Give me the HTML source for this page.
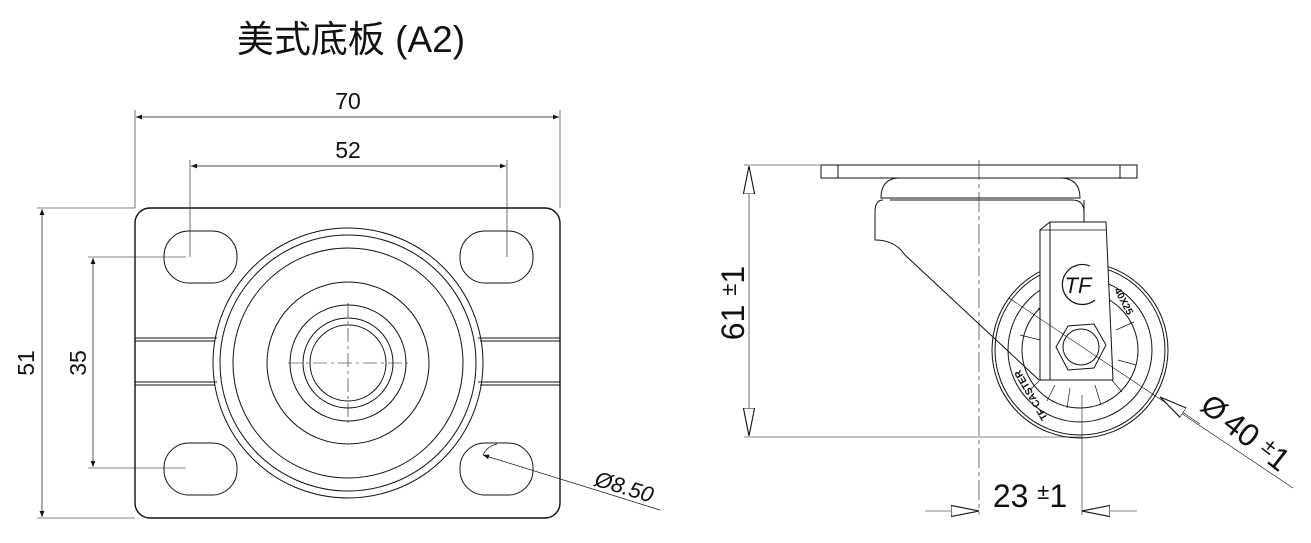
<!DOCTYPE html>
<html><head><meta charset="utf-8"><style>
html,body{margin:0;padding:0;background:#fff;width:1311px;height:543px;overflow:hidden}
svg{display:block}
text{font-family:"Liberation Sans","Noto Sans CJK SC",sans-serif;fill:#111}
</style></head><body>
<svg width="1311" height="543" viewBox="0 0 1311 543" xmlns="http://www.w3.org/2000/svg">
<defs>
<marker id="a" viewBox="0 0 10 10" refX="10" refY="5" markerWidth="14" markerHeight="6" markerUnits="userSpaceOnUse" orient="auto-start-reverse"><path d="M0,1 L10,5 L0,9 z" fill="#111"/></marker>
<marker id="o" viewBox="0 0 20 10" refX="20" refY="5" markerWidth="28" markerHeight="14" markerUnits="userSpaceOnUse" orient="auto-start-reverse"><path d="M0,1 L20,5 L0,9 z" fill="#fff" stroke="#111" stroke-width="0.8"/></marker>
</defs>
<text x="351" y="52" font-size="37" text-anchor="middle">美式底板 (A2)</text>
<g fill="none" stroke="#111" stroke-width="1">
<rect x="135" y="208" width="425" height="310" rx="15" stroke-width="1.4"/>
<rect x="164" y="231" width="73" height="52" rx="25"/>
<rect x="460" y="231" width="73" height="52" rx="25"/>
<rect x="164" y="443" width="73" height="52" rx="25"/>
<rect x="460" y="443" width="73" height="52" rx="25"/>
<path d="M135,338 H217 M135,341 H215 M478,338 H560 M480,341 H560 M135,382 H217 M135,385 H215 M478,382 H560 M480,385 H560" />
<circle cx="348" cy="363" r="135"/>
<circle cx="348" cy="363" r="128"/>
<circle cx="348" cy="363" r="115"/>
<circle cx="348" cy="363" r="81"/>
<circle cx="348" cy="363" r="58"/>
<circle cx="348" cy="363" r="45"/>
<circle cx="348" cy="363" r="38"/>
<path d="M288,363 H408 M348,303 V423" stroke-width="0.6" stroke-dasharray="14,4,3,4"/>
<path d="M135,208 V110 M560,208 V110" stroke-width="0.6"/>
<path d="M136,117 H559" stroke-width="0.7" marker-start="url(#a)" marker-end="url(#a)"/>
<path d="M190,257 V160 M507,257 V160" stroke-width="0.6"/>
<path d="M191,166 H506" stroke-width="0.7" marker-start="url(#a)" marker-end="url(#a)"/>
<path d="M37,208 H135 M37,518 H135" stroke-width="0.6"/>
<path d="M42,209 V517" stroke-width="0.7" marker-start="url(#a)" marker-end="url(#a)"/>
<path d="M88,257 H186 M88,468 H186" stroke-width="0.6"/>
<path d="M93,258 V467" stroke-width="0.7" marker-start="url(#a)" marker-end="url(#a)"/>
<path d="M660,510 L483,455" stroke-width="0.7" marker-end="url(#a)"/>
<path d="M483,455 A20,20 0 0 1 497,444" stroke-width="0.7"/>
<rect x="821" y="165" width="316" height="13"/>
<path d="M838,165 V178 M1120,165 V178"/>
<path d="M881,198 Q881,178 900,178 H1060 Q1080,178 1080,198 Z"/>
<path d="M883,200 Q875,200 875,212 V240 Q895,240 905,255 L1039,380 M1084,212 Q1084,200 1072,200 H890"/>
<path d="M1084,200 V222" />
<circle cx="1080" cy="350" r="88"/>
<circle cx="1080" cy="350" r="85"/>
<circle cx="1080" cy="350" r="72"/>
<circle cx="1080" cy="350" r="58"/>
<path d="M1080,350 m-40,-10 l-20,-5 M1080,350 m-35,25 l-15,15 M1080,350 m-10,38 l-3,20 M1080,350 m15,35 l6,20 M1080,350 m38,10 l18,5 M1080,350 m36,-20 l18,-8 M1080,350 m-30,-30 l-12,-12 M1080,350 m-25,35 l-8,16 M1080,350 m30,28 l12,14" stroke-width="0.7"/>
<path d="M1040,380 V230 L1050,222 H1106 L1113,380 Z" fill="#fff"/>
<path d="M1050,222 V380" />
<path d="M1040,230 H1106" stroke-width="0.7"/>
<polygon points="1068,326 1094,324 1106,345 1094,368 1068,370 1056,347" fill="#fff"/>
<circle cx="1081" cy="347" r="18"/>
<path d="M1090,266 A20,20 0 1 0 1095,300" stroke-width="1.2"/>
<text x="1078" y="293" font-size="22" font-style="italic" stroke="none" text-anchor="middle">TF</text>
<path d="M979,160 V515" stroke-width="0.6" stroke-dasharray="20,4,4,4"/>
<path d="M1082,395 V515" stroke-width="0.6"/>
<path d="M744,165 H820 M744,437 H1082" stroke-width="0.6"/>
<path d="M749,166 V436" stroke-width="0.6" marker-start="url(#o)" marker-end="url(#o)"/>
<path d="M925,511 H979" stroke-width="0.6" marker-end="url(#o)"/>
<path d="M1137,511 H1082" stroke-width="0.6" marker-end="url(#o)"/>
<path d="M1293,488 L1009,298" stroke-width="0.6"/>
<path d="M1200,424 L1160,397" stroke-width="0.6" marker-end="url(#o)"/>
</g>
<text x="1114" y="290" font-size="10" font-weight="bold" transform="rotate(62 1114 290)">40X25</text>
<text x="1048" y="418" font-size="10" font-weight="bold" transform="rotate(-120 1048 418)">TF CASTER</text>
<text x="348" y="109" font-size="23" text-anchor="middle">70</text>
<text x="348" y="158" font-size="23" text-anchor="middle">52</text>
<text x="34" y="363" font-size="23" text-anchor="middle" transform="rotate(-90 34 363)">51</text>
<text x="86" y="363" font-size="23" text-anchor="middle" transform="rotate(-90 86 363)">35</text>
<text x="622" y="494" font-size="22" font-style="italic" text-anchor="middle" transform="rotate(17 622 494)">Ø8.50</text>
<text x="744" y="303" font-size="32" text-anchor="middle" transform="rotate(-90 744 303)">61 <tspan font-size="22" dy="-8">±</tspan><tspan dy="8">1</tspan></text>
<text x="1030" y="507" font-size="32" text-anchor="middle">23 <tspan font-size="22" dy="-8">±</tspan><tspan dy="8">1</tspan></text>
<text x="1208" y="416" font-size="30" text-anchor="middle" transform="rotate(38 1208 416)">Ø</text>
<text x="1250" y="450" font-size="32" text-anchor="middle" transform="rotate(38 1250 450)">40 <tspan font-size="22" dy="-8">±</tspan><tspan dy="8">1</tspan></text>
</svg>
</body></html>
